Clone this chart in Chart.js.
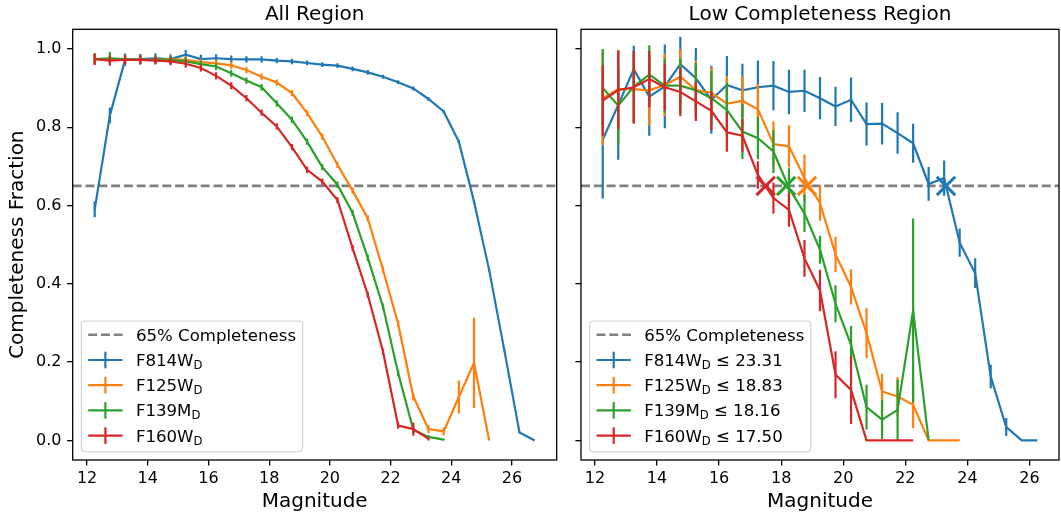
<!DOCTYPE html>
<html>
<head>
<meta charset="utf-8">
<script src="https://cdn.jsdelivr.net/npm/chart.js@4.4.0/dist/chart.umd.min.js"></script>
<style>
  html, body { margin: 0; padding: 0; background: #fff; overflow: hidden; }
  #wrap { position: relative; width: 1061px; height: 518px; overflow: hidden; }
  canvas { position: absolute; top: 0; }
  #left { left: 0; }
  #right { left: 565px; }
</style>
</head>
<body>
<div id="wrap">
  <canvas id="left" width="565" height="518"></canvas>
  <canvas id="right" width="510" height="518"></canvas>
</div>
<script>
// magnitude bin centres
const mags = [12.25, 12.75, 13.25, 13.75, 14.25, 14.75, 15.25, 15.75, 16.25, 16.75,
  17.25, 17.75, 18.25, 18.75, 19.25, 19.75, 20.25, 20.75, 21.25, 21.75,
  22.25, 22.75, 23.25, 23.75, 24.25, 24.75, 25.25, 25.75, 26.25, 26.75];

const filters = ["F814W", "F125W", "F139M", "F160W"];
const colors = ["#1f77b4", "#ff7f0e", "#2ca02c", "#d62728"];
const completenessLevel = 0.65;
const xTicks = [12, 14, 16, 18, 20, 22, 24, 26];
const yTicks = [0, 0.2, 0.4, 0.6, 0.8, 1.0];

// All Region
const allF814W = [0.59, 0.83, 0.972, 0.974, 0.976, 0.974, 0.985, 0.974, 0.976, 0.974, 0.973, 0.973, 0.970, 0.968, 0.964, 0.960, 0.957, 0.949, 0.940, 0.929, 0.915, 0.899, 0.872, 0.840, 0.763, 0.61, 0.435, 0.23, 0.02, 0.0];
const allF814WErr = [0.02, 0.02, 0.016, 0.013, 0.013, 0.012, 0.012, 0.011, 0.01, 0.009, 0.008, 0.008, 0.007, 0.007, 0.006, 0.006, 0.006, 0.006, 0.006, 0.005, 0.005, 0.005, 0.005, 0.004, 0.004, 0.004, 0.003, 0.003, 0.002, 0.0];
const allF125W = [0.974, 0.974, 0.972, 0.972, 0.972, 0.974, 0.972, 0.966, 0.963, 0.958, 0.946, 0.929, 0.914, 0.887, 0.836, 0.776, 0.704, 0.638, 0.567, 0.436, 0.298, 0.112, 0.029, 0.023, 0.111, 0.198, 0.0];
const allF125WErr = [0.013, 0.012, 0.011, 0.011, 0.01, 0.01, 0.01, 0.009, 0.009, 0.009, 0.008, 0.008, 0.008, 0.008, 0.008, 0.008, 0.008, 0.008, 0.008, 0.008, 0.008, 0.01, 0.01, 0.01, 0.042, 0.115, 0.0];
const allF139M = [0.974, 0.976, 0.974, 0.972, 0.972, 0.972, 0.968, 0.961, 0.955, 0.938, 0.919, 0.902, 0.861, 0.819, 0.763, 0.698, 0.653, 0.581, 0.466, 0.342, 0.172, 0.027, 0.009, 0.002];
const allF139MErr = [0.013, 0.016, 0.012, 0.011, 0.01, 0.01, 0.01, 0.009, 0.009, 0.009, 0.008, 0.008, 0.008, 0.008, 0.008, 0.008, 0.008, 0.008, 0.008, 0.008, 0.008, 0.008, 0.004, 0.002];
const allF160W = [0.974, 0.970, 0.972, 0.972, 0.970, 0.968, 0.962, 0.951, 0.931, 0.906, 0.874, 0.837, 0.802, 0.749, 0.691, 0.661, 0.614, 0.491, 0.372, 0.227, 0.038, 0.029, 0.004];
const allF160WErr = [0.015, 0.013, 0.011, 0.011, 0.01, 0.01, 0.01, 0.009, 0.009, 0.009, 0.008, 0.008, 0.008, 0.008, 0.008, 0.008, 0.008, 0.008, 0.008, 0.008, 0.008, 0.017, 0.004];

// Low Completeness Region
const lowF814W = [0.768, 0.857, 0.948, 0.878, 0.904, 0.961, 0.925, 0.870, 0.908, 0.894, 0.902, 0.906, 0.890, 0.893, 0.874, 0.853, 0.870, 0.808, 0.809, 0.785, 0.759, 0.655, 0.670, 0.505, 0.427, 0.163, 0.034, 0.0, 0.0];
const lowF814WErr = [0.15, 0.14, 0.06, 0.10, 0.107, 0.07, 0.077, 0.087, 0.074, 0.068, 0.068, 0.063, 0.057, 0.054, 0.054, 0.05, 0.057, 0.055, 0.053, 0.053, 0.05, 0.043, 0.045, 0.036, 0.038, 0.03, 0.023, 0.0, 0.0];
const lowF125W = [0.874, 0.897, 0.897, 0.894, 0.908, 0.929, 0.895, 0.888, 0.860, 0.867, 0.846, 0.757, 0.751, 0.670, 0.606, 0.475, 0.392, 0.274, 0.125, 0.112, 0.091, 0.0, 0.0, 0.0];
const lowF125WErr = [0.12, 0.1, 0.087, 0.09, 0.08, 0.07, 0.075, 0.065, 0.07, 0.063, 0.065, 0.058, 0.054, 0.06, 0.045, 0.045, 0.045, 0.064, 0.045, 0.05, 0.06, 0.0, 0.0, 0.0];
const lowF139M = [0.900, 0.855, 0.904, 0.934, 0.906, 0.906, 0.894, 0.874, 0.844, 0.789, 0.772, 0.738, 0.645, 0.58, 0.487, 0.349, 0.244, 0.085, 0.053, 0.078, 0.332, 0.0];
const lowF139MErr = [0.1, 0.1, 0.09, 0.075, 0.07, 0.07, 0.07, 0.07, 0.07, 0.07, 0.054, 0.055, 0.05, 0.048, 0.036, 0.047, 0.048, 0.057, 0.05, 0.077, 0.235, 0.0];
const lowF160W = [0.868, 0.895, 0.902, 0.923, 0.902, 0.890, 0.866, 0.842, 0.787, 0.778, 0.678, 0.619, 0.589, 0.465, 0.383, 0.168, 0.129, 0.0, 0.0, 0.0, 0.0];
const lowF160WErr = [0.09, 0.1, 0.093, 0.072, 0.06, 0.062, 0.05, 0.05, 0.05, 0.042, 0.035, 0.04, 0.043, 0.047, 0.053, 0.06, 0.087, 0.0, 0.0, 0.0, 0.0];

// 65% completeness magnitudes (low completeness region)
const cutMags = [23.31, 18.83, 18.16, 17.50];

const FONT = '"DejaVu Sans", sans-serif';
const LW = 2.2;

function series(vals, errs, i) {
  return {
    label: filters[i],
    data: vals.map((v, k) => ({ x: mags[k], y: v })),
    err: errs,
    borderColor: colors[i],
    backgroundColor: colors[i],
    borderWidth: LW,
    showLine: true,
    pointRadius: 0,
    pointHoverRadius: 0,
    order: 10 - i,
  };
}

function dashed(xMin, xMax) {
  return {
    label: "65% Completeness",
    data: [{ x: xMin, y: completenessLevel }, { x: xMax, y: completenessLevel }],
    borderColor: "#808080",
    borderWidth: 2.6,
    borderDash: [9, 3.8],
    showLine: true,
    pointRadius: 0,
    order: 20,
  };
}

// error bars, frame, titles and legend
const panelPlugin = {
  id: "panel",
  afterDatasetDraw(chart, args) {
    const ds = chart.data.datasets[args.index];
    if (!ds.err) return;
    const { ctx, chartArea: a } = chart;
    const x = chart.scales.x, y = chart.scales.y;
    ctx.save();
    ctx.beginPath();
    ctx.rect(a.left, a.top, a.right - a.left, a.bottom - a.top);
    ctx.clip();
    ctx.strokeStyle = ds.borderColor;
    ctx.lineWidth = ds.borderWidth;
    ds.data.forEach((p, k) => {
      const e = ds.err[k];
      if (!e) return;
      const px = x.getPixelForValue(p.x);
      ctx.beginPath();
      ctx.moveTo(px, y.getPixelForValue(p.y - e));
      ctx.lineTo(px, y.getPixelForValue(p.y + e));
      ctx.stroke();
    });
    ctx.restore();
  },
  afterDraw(chart, args, opts) {
    const { ctx, chartArea: a } = chart;
    const cx = (a.left + a.right) / 2;
    ctx.save();
    // frame
    ctx.strokeStyle = "#000";
    ctx.lineWidth = 1.3;
    ctx.strokeRect(a.left, a.top, a.right - a.left, a.bottom - a.top);
    // titles
    ctx.fillStyle = "#000";
    ctx.font = "20px " + FONT;
    ctx.textAlign = "center";
    ctx.textBaseline = "alphabetic";
    ctx.fillText(opts.title, cx, a.top - 9.6);
    ctx.fillText("Magnitude", cx, 507);
    if (opts.yLabel) {
      ctx.save();
      ctx.translate(23, (a.top + a.bottom) / 2);
      ctx.rotate(-Math.PI / 2);
      ctx.fillText("Completeness Fraction", 0, 0);
      ctx.restore();
    }
    // legend
    const fs = 16.6, sub = 11.6;
    const items = chart.data.datasets.filter(d => d.label && d.label !== "cut");
    const widthOf = d => {
      ctx.font = fs + "px " + FONT;
      let w = ctx.measureText(d.label).width;
      if (!d.err) return w;
      ctx.font = sub + "px " + FONT;
      w += ctx.measureText("D").width;
      if (opts.suffix) {
        ctx.font = fs + "px " + FONT;
        w += ctx.measureText(" \u2264 " + opts.suffix[d.idx]).width;
      }
      return w;
    };
    let maxW = 0;
    items.forEach(d => { maxW = Math.max(maxW, widthOf(d)); });
    const bx = a.left + 8.7, bh = 130.7, by = a.bottom - 8.3 - bh;
    const bw = 54.5 + maxW + 6.5;
    ctx.beginPath();
    ctx.roundRect(bx, by, bw, bh, 3.5);
    ctx.fillStyle = "rgba(255,255,255,0.8)";
    ctx.fill();
    ctx.strokeStyle = "#d0d0d0";
    ctx.lineWidth = 1.1;
    ctx.stroke();
    items.forEach((d, r) => {
      const cy = by + 13.8 + r * 25.2;
      const hx = bx + 6.8, hl = 34.4;
      ctx.strokeStyle = d.borderColor;
      ctx.lineWidth = d.borderWidth;
      ctx.setLineDash(d.err ? [] : d.borderDash);
      ctx.beginPath();
      ctx.moveTo(hx, cy);
      ctx.lineTo(hx + hl, cy);
      ctx.stroke();
      ctx.setLineDash([]);
      if (d.err) {
        ctx.beginPath();
        ctx.moveTo(hx + hl / 2, cy - 8.3);
        ctx.lineTo(hx + hl / 2, cy + 8.3);
        ctx.stroke();
      }
      ctx.fillStyle = "#000";
      ctx.textAlign = "left";
      const base = cy + 6;
      let tx = bx + 54.5;
      ctx.font = fs + "px " + FONT;
      ctx.fillText(d.label, tx, base);
      if (d.err) {
        tx += ctx.measureText(d.label).width;
        ctx.font = sub + "px " + FONT;
        ctx.fillText("D", tx, base + 3);
        tx += ctx.measureText("D").width;
        if (opts.suffix) {
          ctx.font = fs + "px " + FONT;
          ctx.fillText(" \u2264 " + opts.suffix[d.idx], tx, base);
        }
      }
    });
    ctx.restore();
  }
};

function makePanel(id, cfg) {
  const sets = [dashed(cfg.xMin, cfg.xMax)];
  cfg.vals.forEach((v, i) => {
    const s = series(v, cfg.errs[i], i);
    s.idx = i;
    sets.push(s);
  });
  if (cfg.cuts) {
    sets.push({
      label: "cut",
      data: cfg.cuts.map(m => ({ x: m, y: completenessLevel })),
      pointStyle: "crossRot",
      pointRadius: 13,
      pointHoverRadius: 13,
      pointBorderWidth: 3,
      borderColor: colors,
      pointBorderColor: colors,
      backgroundColor: colors,
      showLine: false,
      order: 0,
    });
  }
  return new Chart(document.getElementById(id), {
    type: "scatter",
    data: { datasets: sets },
    plugins: [panelPlugin],
    options: {
      responsive: false,
      animation: false,
      devicePixelRatio: 1,
      layout: { padding: { top: 29.3, right: cfg.padRight, bottom: 0, left: 0 } },
      plugins: {
        legend: { display: false },
        tooltip: { enabled: false },
        panel: { title: cfg.title, yLabel: cfg.yLabel, suffix: cfg.suffix },
      },
      scales: {
        x: {
          type: "linear",
          min: cfg.xMin,
          max: cfg.xMax,
          afterBuildTicks: s => { s.ticks = xTicks.map(v => ({ value: v })); },
          afterFit: s => { s.height = 58; },
          ticks: { font: { family: FONT, size: 16 }, color: "#000", padding: 4, maxRotation: 0,
            callback: v => String(v) },
          grid: { drawOnChartArea: false, drawTicks: true, tickLength: 5.6, color: "#000", lineWidth: 1.3 },
          border: { display: false },
        },
        y: {
          type: "linear",
          min: -0.05,
          max: 1.05,
          afterBuildTicks: s => { s.ticks = yTicks.map(v => ({ value: v })); },
          afterFit: s => { s.width = cfg.yWidth; },
          ticks: { font: { family: FONT, size: 16 }, color: "#000", padding: 5.6,
            display: cfg.yLabel, callback: v => v.toFixed(1) },
          grid: { drawOnChartArea: false, drawTicks: true, tickLength: 5.6, color: "#000", lineWidth: 1.3 },
          border: { display: false },
        },
      },
    },
  });
}

makePanel("left", {
  title: "All Region",
  yLabel: true,
  xMin: 11.525, xMax: 27.475,
  padRight: 8.3, yWidth: 72.7,
  vals: [allF814W, allF125W, allF139M, allF160W],
  errs: [allF814WErr, allF125WErr, allF139MErr, allF160WErr],
});

makePanel("right", {
  title: "Low Completeness Region",
  yLabel: false,
  xMin: 11.55, xMax: 26.95,
  padRight: 10.3, yWidth: 15.7,
  vals: [lowF814W, lowF125W, lowF139M, lowF160W],
  errs: [lowF814WErr, lowF125WErr, lowF139MErr, lowF160WErr],
  cuts: cutMags,
  suffix: cutMags.map(m => m.toFixed(2)),
});
</script>
</body>
</html>
